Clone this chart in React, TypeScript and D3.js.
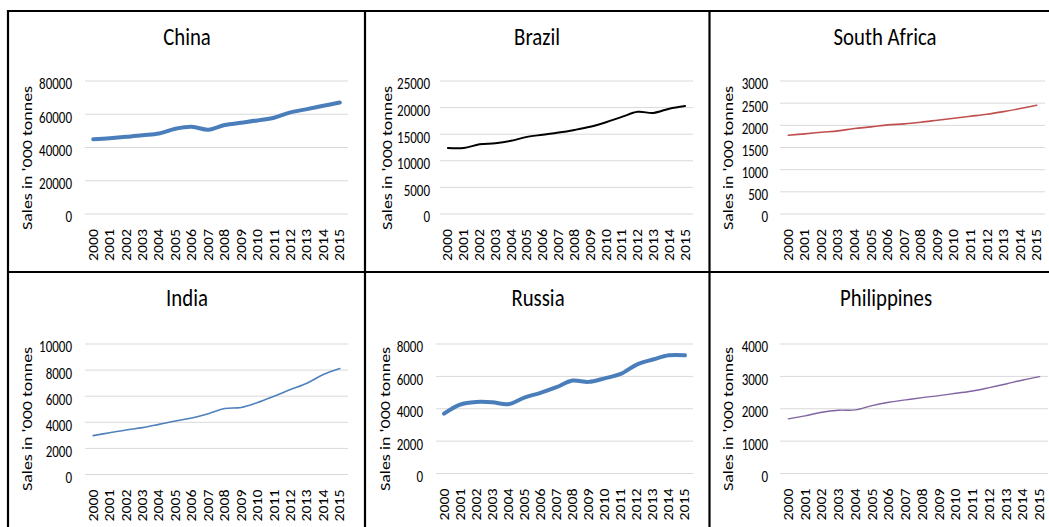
import React from "react";
import * as d3 from "d3";

const years = ["2000","2001","2002","2003","2004","2005","2006","2007","2008","2009","2010","2011","2012","2013","2014","2015"];

const chinaSales = [45000,45600,46400,47400,48400,51300,52500,50700,53500,54900,56300,57900,61100,63100,65100,67100];
const brazilSales = [12400,12400,13100,13300,13750,14500,14900,15300,15800,16400,17250,18250,19200,19000,19800,20300];
const southAfricaSales = [1778,1808,1845,1875,1928,1965,2010,2033,2070,2115,2160,2205,2250,2310,2378,2453];
const indiaSales = [2980,3200,3410,3590,3840,4100,4330,4660,5060,5140,5520,6000,6510,7000,7660,8120];
const russiaSales = [3700,4260,4420,4400,4280,4690,4980,5330,5740,5660,5880,6150,6730,7040,7300,7300];
const philippinesSales = [1686,1779,1892,1954,1964,2098,2201,2273,2344,2406,2478,2550,2653,2766,2889,2992];

const chinaTicks = [0,20000,40000,60000,80000];
const brazilTicks = [0,5000,10000,15000,20000,25000];
const southAfricaTicks = [0,500,1000,1500,2000,2500,3000];
const indiaTicks = [0,2000,4000,6000,8000,10000];
const russiaTicks = [0,2000,4000,6000,8000];
const philippinesTicks = [0,1000,2000,3000,4000];

const yTitle = "Sales in '000 tonnes";
const FONT = "Carlito, Calibri, Lato, sans-serif";
const SY = 1.2;

type Panel = {
  title: string; values: number[]; ticks: number[]; color: string; width: number;
  x0: number; x1: number; yTop: number; yBottom: number; labelX: number; axisX: number; axisCY: number;
  titleX: number; titleY: number;
};

const panels: Panel[] = [
  { title: "China", values: chinaSales, ticks: chinaTicks, color: "#4a7ebb", width: 4,
    x0: 85, x1: 348, yTop: 81, yBottom: 214, labelX: 72, axisX: 27, axisCY: 158, titleX: 187, titleY: 45 },
  { title: "Brazil", values: brazilSales, ticks: brazilTicks, color: "#000000", width: 2,
    x0: 440, x1: 693, yTop: 81, yBottom: 214, labelX: 430, axisX: 387, axisCY: 158, titleX: 537, titleY: 45 },
  { title: "South Africa", values: southAfricaSales, ticks: southAfricaTicks, color: "#c0504d", width: 1.6,
    x0: 780, x1: 1045, yTop: 81, yBottom: 214, labelX: 768, axisX: 728, axisCY: 158, titleX: 885, titleY: 45 },
  { title: "India", values: indiaSales, ticks: indiaTicks, color: "#4f81bd", width: 1.6,
    x0: 85, x1: 348, yTop: 344, yBottom: 474.5, labelX: 72, axisX: 27, axisCY: 419, titleX: 187, titleY: 306 },
  { title: "Russia", values: russiaSales, ticks: russiaTicks, color: "#4a7ebb", width: 4,
    x0: 436, x1: 693, yTop: 344, yBottom: 473.5, labelX: 423, axisX: 385, axisCY: 419, titleX: 538, titleY: 306 },
  { title: "Philippines", values: philippinesSales, ticks: philippinesTicks, color: "#8064a2", width: 1.4,
    x0: 780, x1: 1048, yTop: 344, yBottom: 473.5, labelX: 768, axisX: 728, axisCY: 419, titleX: 886, titleY: 306 },
];

function PanelView({ p }: { p: Panel }) {
  const x = d3.scaleBand<string>().domain(years).range([p.x0, p.x1]).padding(0);
  const maxT = p.ticks[p.ticks.length - 1];
  const y = d3.scaleLinear().domain([0, maxT]).range([p.yBottom, p.yTop]);
  const bw = x.bandwidth();
  const line = d3.line<number>()
    .x((_, i) => (x(years[i]) as number) + bw / 2)
    .y((d) => y(d))
    .curve(d3.curveCatmullRom.alpha(0.5));
  return (
    <g>
      <text transform={`translate(${p.titleX},${p.titleY}) scale(1,${SY})`} textAnchor="middle" fontSize={20.8} fill="#000" fontFamily={FONT}>{p.title}</text>
      {p.ticks.map((t) => (
        <g key={t}>
          <line x1={p.x0} x2={p.x1} y1={y(t)} y2={y(t)} stroke="#d9d9d9" strokeWidth={1} />
          <text transform={`translate(${p.labelX},${y(t) + 8.4}) scale(1,${SY})`} textAnchor="end" fontSize={13} fill="#000" fontFamily={FONT}>{t}</text>
        </g>
      ))}
      {years.map((yr) => (
        <text key={yr} transform={`translate(${(x(yr) as number) + bw / 2},${p.yBottom + 15}) scale(1,${SY}) rotate(-90)`}
          textAnchor="end" dominantBaseline="central" fontSize={13.2} fill="#000" fontFamily={FONT}>{yr}</text>
      ))}
      <text transform={`translate(${p.axisX},${p.axisCY}) scale(1,${SY}) rotate(-90)`} textAnchor="middle" dominantBaseline="central"
        fontSize={15} fill="#000" fontFamily={FONT}>{yTitle}</text>
      <path d={line(p.values) || ""} fill="none" stroke={p.color} strokeWidth={p.width} strokeLinejoin="round" strokeLinecap="round" />
    </g>
  );
}

export default function App() {
  return (
    <svg width={1049} height={527} style={{ position: "absolute", left: 0, top: 0, background: "#fff" }}>
      <rect x={0} y={0} width={1049} height={527} fill="#fff" />
      {panels.map((p) => <PanelView key={p.title} p={p} />)}
      <g stroke="#000" strokeWidth={2.2}>
        <line x1={7} x2={1049} y1={11} y2={11} />
        <line x1={8} x2={8} y1={10} y2={527} />
        <line x1={365} x2={365} y1={10} y2={527} />
        <line x1={709.5} x2={709.5} y1={10} y2={527} />
        <line x1={7} x2={1049} y1={272} y2={272} />
      </g>
    </svg>
  );
}
